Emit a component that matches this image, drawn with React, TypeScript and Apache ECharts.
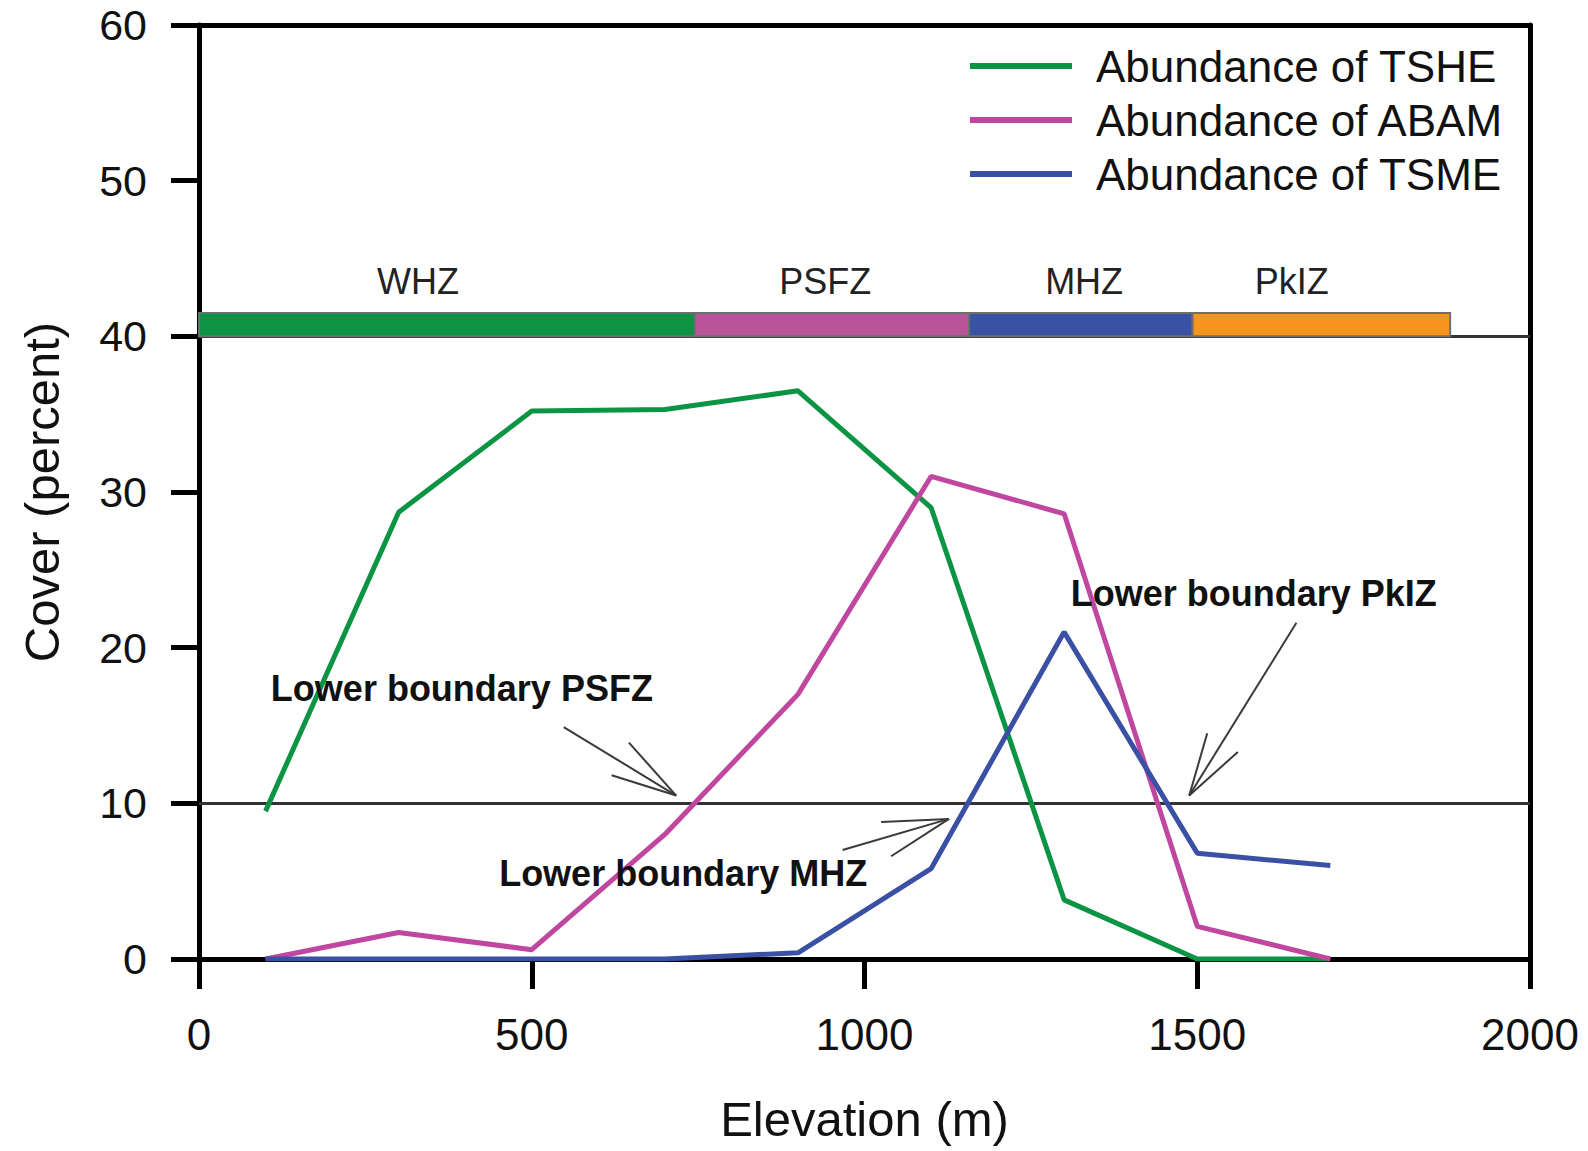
import React, { useEffect, useRef } from 'react';
import * as echarts from 'echarts';

const FONT = '"Liberation Sans", Arial, Helvetica, sans-serif';

const elevations = [100, 300, 500, 700, 900, 1100, 1300, 1500, 1700];
const tsheValues = [9.5, 28.7, 35.2, 35.3, 36.5, 29.0, 3.8, 0, 0];
const abamValues = [0, 1.7, 0.6, 8.0, 17.0, 31.0, 28.6, 2.1, 0];
const tsmeValues = [0, 0, 0, 0, 0.4, 5.8, 21.0, 6.8, 6.0];

const seriesNames = ['Abundance of TSHE', 'Abundance of ABAM', 'Abundance of TSME'];
const seriesColors = ['#0b9444', '#c0479f', '#3a50a4'];

const zoneNames = ['WHZ', 'PSFZ', 'MHZ', 'PkIZ'];
const zoneStarts = [0, 745, 1157, 1493];
const zoneEnds = [745, 1157, 1493, 1880];
const zoneColors = ['#0a9444', '#b9539a', '#3953a4', '#f7941d'];
const zoneLabelX = [329, 941, 1330, 1642];
const zoneBase = 40;
const zoneTop = 41.5;
const zoneLabelY = 43.5;

const boundaryLevels = [10, 40];

const annotationTexts = ['Lower boundary PSFZ', 'Lower boundary MHZ', 'Lower boundary PkIZ'];
const annotationX = [108, 451, 1310];
const annotationY = [17.4, 5.5, 23.5];

const arrowTails = [[548, 14.9], [967, 7.0], [1649, 21.6]];
const arrowTips = [[717, 10.5], [1127, 9.0], [1488, 10.5]];
const arrowHeadA = [[646, 13.9], [1025, 8.8], [1515, 14.5]];
const arrowHeadB = [[620, 11.8], [1040, 6.6], [1561, 13.3]];

const valueSets = [tsheValues, abamValues, tsmeValues];

export default function App() {
  const ref = useRef<HTMLDivElement>(null);

  useEffect(() => {
    if (!ref.current) return;
    const chart = echarts.init(ref.current, undefined, { renderer: 'svg' });

    const lineSeries = seriesNames.map((name, si) => ({
      name,
      type: 'line',
      data: elevations.map((x, i) => [x, valueSets[si][i]]),
      showSymbol: false,
      symbol: 'none',
      lineStyle: { color: seriesColors[si], width: 5 },
      itemStyle: { color: seriesColors[si] },
      z: 3,
      markLine:
        si === 0
          ? {
              silent: true,
              symbol: 'none',
              label: { show: false },
              lineStyle: { color: '#333', width: 3, type: 'solid' },
              data: boundaryLevels.map((v) => ({ yAxis: v })),
              z: 1,
            }
          : undefined,
    }));

    const zoneSeries = {
      type: 'custom',
      z: 4,
      clip: false,
      data: zoneNames.map((n, i) => [zoneStarts[i], zoneEnds[i], zoneLabelX[i], i]),
      encode: { x: [0, 1, 2], y: 3 },
      renderItem: (params: any, api: any) => {
        const s = api.value(0);
        const e = api.value(1);
        const lx = api.value(2);
        const idx = api.value(3);
        const p0 = api.coord([s, zoneTop]);
        const p1 = api.coord([e, zoneBase]);
        const lc = api.coord([lx, zoneLabelY]);
        return {
          type: 'group',
          children: [
            {
              type: 'rect',
              shape: { x: p0[0], y: p0[1], width: p1[0] - p0[0], height: p1[1] - p0[1] },
              style: { fill: zoneColors[idx], stroke: '#6e6e6e', lineWidth: 2 },
            },
            {
              type: 'text',
              x: lc[0],
              y: lc[1],
              style: {
                text: zoneNames[idx],
                fontSize: 36,
                fontFamily: FONT,
                fill: '#222',
                align: 'center',
                verticalAlign: 'middle',
              },
            },
          ],
        };
      },
    };

    const annotationSeries = {
      type: 'custom',
      z: 6,
      clip: false,
      data: annotationTexts.map((t, i) => [annotationX[i], annotationY[i], i]),
      encode: { x: 0, y: 1 },
      renderItem: (params: any, api: any) => {
        const p = api.coord([api.value(0), api.value(1)]);
        const idx = api.value(2);
        return {
          type: 'text',
          x: p[0],
          y: p[1],
          style: {
            text: annotationTexts[idx],
            fontSize: 36,
            fontWeight: 'bold',
            fontFamily: FONT,
            fill: '#111',
            align: 'left',
            verticalAlign: 'middle',
          },
        };
      },
    };

    const arrowSeries = {
      type: 'custom',
      z: 5,
      clip: false,
      data: arrowTips.map((tip, i) => [
        tip[0], tip[1],
        arrowTails[i][0], arrowTails[i][1],
        arrowHeadA[i][0], arrowHeadA[i][1],
        arrowHeadB[i][0], arrowHeadB[i][1],
      ]),
      encode: { x: 0, y: 1 },
      renderItem: (params: any, api: any) => {
        const tip = api.coord([api.value(0), api.value(1)]);
        const tail = api.coord([api.value(2), api.value(3)]);
        const ha = api.coord([api.value(4), api.value(5)]);
        const hb = api.coord([api.value(6), api.value(7)]);
        const st = { stroke: '#3a3a3a', lineWidth: 2 };
        return {
          type: 'group',
          children: [
            { type: 'line', shape: { x1: tail[0], y1: tail[1], x2: tip[0], y2: tip[1] }, style: st },
            { type: 'line', shape: { x1: ha[0], y1: ha[1], x2: tip[0], y2: tip[1] }, style: st },
            { type: 'line', shape: { x1: hb[0], y1: hb[1], x2: tip[0], y2: tip[1] }, style: st },
          ],
        };
      },
    };

    const axisLine = { show: true, onZero: false, lineStyle: { color: '#000', width: 5 } };

    chart.setOption({
      animation: false,
      backgroundColor: '#fff',
      textStyle: { fontFamily: FONT },
      grid: { left: 199, top: 25, right: 58, bottom: 192, containLabel: false },
      legend: {
        data: seriesNames,
        orient: 'vertical',
        left: 970,
        top: 44,
        padding: 0,
        itemGap: 10,
        itemWidth: 102,
        itemHeight: 6,
        icon: 'rect',
        textStyle: { fontSize: 44, color: '#111', fontFamily: FONT, padding: [0, 0, 0, 19] },
      },
      xAxis: [
        {
          type: 'value',
          min: 0,
          max: 2000,
          interval: 500,
          position: 'bottom',
          axisLine,
          axisTick: { show: true, inside: false, length: 30, lineStyle: { color: '#000', width: 5 } },
          axisLabel: {
            fontSize: 44,
            margin: 53,
            color: '#111',
            fontFamily: FONT,
            formatter: (v: number) => String(v),
          },
          splitLine: { show: false },
          name: 'Elevation (m)',
          nameLocation: 'middle',
          nameGap: 135,
          nameTextStyle: { fontSize: 49, color: '#111', fontFamily: FONT },
        },
        {
          type: 'value',
          min: 0,
          max: 2000,
          interval: 500,
          position: 'top',
          axisLine,
          axisTick: { show: false },
          axisLabel: { show: false },
          splitLine: { show: false },
        },
      ],
      yAxis: [
        {
          type: 'value',
          min: 0,
          max: 60,
          interval: 10,
          position: 'left',
          axisLine,
          axisTick: { show: true, inside: false, length: 28, lineStyle: { color: '#000', width: 5 } },
          axisLabel: {
            fontSize: 43,
            margin: 52,
            color: '#111',
            fontFamily: FONT,
            formatter: (v: number) => String(v),
          },
          splitLine: { show: false },
          name: 'Cover (percent)',
          nameLocation: 'middle',
          nameGap: 133,
          nameRotate: 90,
          nameTextStyle: { fontSize: 49, color: '#111', fontFamily: FONT },
        },
        {
          type: 'value',
          min: 0,
          max: 60,
          interval: 10,
          position: 'right',
          axisLine,
          axisTick: { show: false },
          axisLabel: { show: false },
          splitLine: { show: false },
        },
      ],
      series: [...lineSeries, zoneSeries, arrowSeries, annotationSeries],
    } as any);

    return () => chart.dispose();
  }, []);

  return (
    <div
      ref={ref}
      style={{ position: 'absolute', left: 0, top: 0, width: 1588, height: 1151, background: '#fff' }}
    />
  );
}
